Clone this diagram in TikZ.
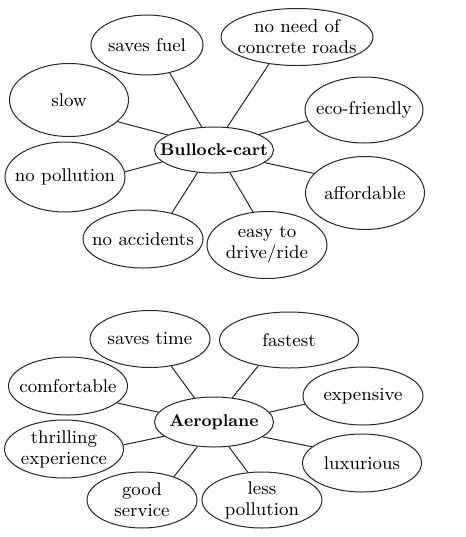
\documentclass[tikz,border=0pt]{standalone}
\usetikzlibrary{shapes.geometric}

\tikzset{
  bubble/.style={ellipse, draw=black!85, line width=0.5pt, inner xsep=-6pt, inner ysep=-2pt,
    align=center, font=\fontsize{9.2}{10.5}\selectfont},
  hub/.style={bubble, font=\fontsize{8.5}{10}\selectfont\bfseries},
  spoke/.style={draw=black!85, line width=0.5pt}
}

\begin{document}
\begin{tikzpicture}[x=0.5pt,y=-0.5pt]
\useasboundingbox (0,0) rectangle (466,537);

% Bullock-cart
\node[hub, minimum width=59.5pt, minimum height=23pt] (bc) at (214,150) {Bullock-cart};
\node[bubble, minimum width=56pt, minimum height=30pt] (fuel) at (147,45) {saves fuel};
\node[bubble, minimum width=76pt, minimum height=28.5pt] (roads) at (297,37) {no need of\\concrete roads};
\node[bubble, minimum width=59.5pt, minimum height=36.5pt] (slow) at (69,100) {slow};
\node[bubble, minimum width=59pt, minimum height=33pt] (eco) at (364,110) {eco-friendly};
\node[bubble, minimum width=60pt, minimum height=35pt] (nopol) at (65,177) {no pollution};
\node[bubble, minimum width=59.5pt, minimum height=36.5pt] (afford) at (365,193) {affordable};
\node[bubble, minimum width=60pt, minimum height=29pt] (noacc) at (143,239) {no accidents};
\node[bubble, minimum width=60pt, minimum height=33.5pt] (easy) at (267,245) {easy to\\drive/ride};

\draw[spoke] (bc.118) -- (fuel.-51);
\draw[spoke] (bc.60) -- (roads.224);
\draw[spoke] (bc.162) -- (slow.-24);
\draw[spoke] (bc.19) -- (eco.191);
\draw[spoke] (bc.193) -- (nopol.5);
\draw[spoke] (bc.-14) -- (afford.159);
\draw[spoke] (bc.234) -- (noacc.42);
\draw[spoke] (bc.-55) -- (easy.113);

% Aeroplane
\node[hub, minimum width=59.5pt, minimum height=25pt] (ae) at (214,422) {Aeroplane};
\node[bubble, minimum width=60pt, minimum height=28.5pt] (time) at (150,339) {saves time};
\node[bubble, minimum width=69.5pt, minimum height=28pt] (fast) at (289,340) {fastest};
\node[bubble, minimum width=59.5pt, minimum height=29pt] (comf) at (68,386) {comfortable};
\node[bubble, minimum width=60pt, minimum height=29pt] (exp) at (363,396) {expensive};
\node[bubble, minimum width=59.5pt, minimum height=29pt] (thrill) at (64,449) {thrilling\\experience};
\node[bubble, minimum width=59.5pt, minimum height=29pt] (lux) at (362,463) {luxurious};
\node[bubble, minimum width=55pt, minimum height=28pt] (good) at (142,500) {good\\service};
\node[bubble, minimum width=60pt, minimum height=28pt] (less) at (262,500) {less\\pollution};

\draw[spoke] (ae.129) -- (time.-52);
\draw[spoke] (ae.53) -- (fast.220);
\draw[spoke] (ae.170) -- (comf.-19);
\draw[spoke] (ae.10) -- (exp.188);
\draw[spoke] (ae.196) -- (thrill.4);
\draw[spoke] (ae.-17) -- (lux.162);
\draw[spoke] (ae.236) -- (good.36);
\draw[spoke] (ae.-59) -- (less.117);
\end{tikzpicture}
\end{document}
